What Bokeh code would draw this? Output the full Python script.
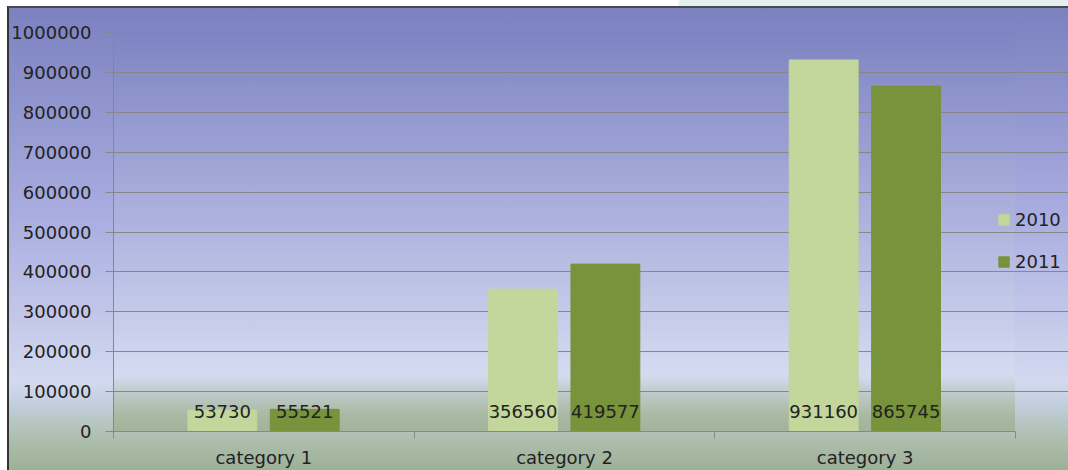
from bokeh.plotting import figure
from bokeh.models import Range1d, FixedTicker, ColumnDataSource, BasicTickFormatter
from bokeh.core.properties import value
from bokeh.embed import file_html
from bokeh.resources import INLINE

categories = ["category 1", "category 2", "category 3"]
series_names = ["2010", "2011"]
values_2010 = [53730, 356560, 931160]
values_2011 = [55521, 419577, 865745]
y_ticks = [0, 100000, 200000, 300000, 400000, 500000, 600000, 700000, 800000, 900000, 1000000]

colors = {"2010": "#c3d69b", "2011": "#77933c"}
offsets = {"2010": -0.138, "2011": 0.136}
FONT = "DejaVu Sans"

W, H = 1068, 470
LEFT, TOP, BOTTOM = 113, 32, 39
PLOT_W = 902                     # width taken by the three categories
FRAME_W = W - LEFT               # frame runs to the right edge (legend lives there)
n = len(categories)
x_end = n * FRAME_W / PLOT_W

p = figure(width=W, height=H, output_backend="svg", toolbar_location=None,
           x_range=Range1d(0, x_end), y_range=Range1d(0, max(y_ticks)),
           min_border_left=LEFT, min_border_top=TOP, min_border_right=0,
           min_border_bottom=BOTTOM)

chart_bg = ("linear-gradient(to bottom, #7b81bf 0%, #a9ade0 45%, #d3d9ef 81%, "
            "#c4d0e2 85%, #aebfae 93%, #9db097 100%)")
plot_bg = ("linear-gradient(to bottom, #7e84c2 0%, #abb0dc 45%, #d4dbf0 86%, "
           "#c0cccd 90%, #a9b9a3 96%, #a2b39c 100%)")
top_strip = "linear-gradient(100deg, #ffffff 0px, #ffffff 668px, #e4f0f0 670px, #e4f0f0 100%)"
left_strip = "linear-gradient(#ffffff, #ffffff)"
border_top = "linear-gradient(#4a4a4a, #4a4a4a)"
border_left = "linear-gradient(#333333, #333333)"
p.styles = {
    "background-image": ", ".join([border_top, border_left, top_strip, left_strip,
                                   plot_bg, chart_bg]),
    "background-position": "8px 6px, 7px 6px, 0 0, 0 0, 113px 32px, 8px 8px",
    "background-size": ("100% 2px, 2px 100%, 100% 6px, 7px 100%, 902px 399px, "
                        "calc(100% - 8px) calc(100% - 8px)"),
    "background-repeat": "no-repeat",
}
p.background_fill_alpha = 0
p.border_fill_alpha = 0
p.outline_line_color = None

for name, vals in (("2010", values_2010), ("2011", values_2011)):
    xs = [i + 0.5 + offsets[name] for i in range(n)]
    src = ColumnDataSource(dict(x=xs, top=vals, label=[str(v) for v in vals],
                                zero=[0] * len(vals)))
    p.vbar(x="x", top="top", width=0.229, source=src, fill_color=colors[name],
           line_color=colors[name], legend_label=name)
    p.text(x="x", y="zero", text="label", source=src, text_align="center",
           text_baseline="middle", y_offset=-20, text_font=value(FONT),
           text_font_size="18px", text_color="#222222")

# grid
p.xgrid.grid_line_color = None
p.ygrid.ticker = FixedTicker(ticks=y_ticks)
p.ygrid.grid_line_color = "#878787"
p.ygrid.grid_line_width = 1
p.ygrid.bounds = (0, n)

# y axis
p.yaxis.ticker = FixedTicker(ticks=y_ticks)
p.yaxis.formatter = BasicTickFormatter(use_scientific=False)
p.yaxis.axis_line_color = "#878787"
p.yaxis.major_tick_line_color = "#878787"
p.yaxis.major_tick_out = 8
p.yaxis.major_tick_in = 0
p.yaxis.minor_tick_line_color = None
p.yaxis.major_label_standoff = 14
p.yaxis.major_label_text_font = FONT
p.yaxis.major_label_text_font_size = "18px"
p.yaxis.major_label_text_color = "#222222"

# x axis: labels at centers, ticks at boundaries
centers = [i + 0.5 for i in range(n)]
bounds = [i for i in range(n + 1)]
p.xaxis.ticker = FixedTicker(ticks=centers, minor_ticks=bounds)
p.xaxis.major_label_overrides = {c: cat for c, cat in zip(centers, categories)}
p.xaxis.bounds = (0, n)
p.xaxis.axis_line_color = "#878787"
p.xaxis.major_tick_line_color = None
p.xaxis.major_tick_out = 0
p.xaxis.major_tick_in = 0
p.xaxis.minor_tick_line_color = "#878787"
p.xaxis.minor_tick_out = 7
p.xaxis.minor_tick_in = 0
p.xaxis.major_label_standoff = 8
p.xaxis.major_label_text_font = FONT
p.xaxis.major_label_text_font_size = "18px"
p.xaxis.major_label_text_color = "#222222"

# legend (location = bottom-left corner, in px from the frame's bottom-left)
lg = p.legend[0]
lg.location = (884, 159)
lg.padding = 0
lg.margin = 0
lg.spacing = 21
lg.glyph_width = 13
lg.glyph_height = 13
lg.label_height = 20
lg.label_standoff = 5
lg.label_text_font = FONT
lg.label_text_font_size = "18px"
lg.label_text_color = "#222222"
lg.background_fill_alpha = 0
lg.border_line_color = None

open("out.html", "w").write(file_html(p, INLINE))
